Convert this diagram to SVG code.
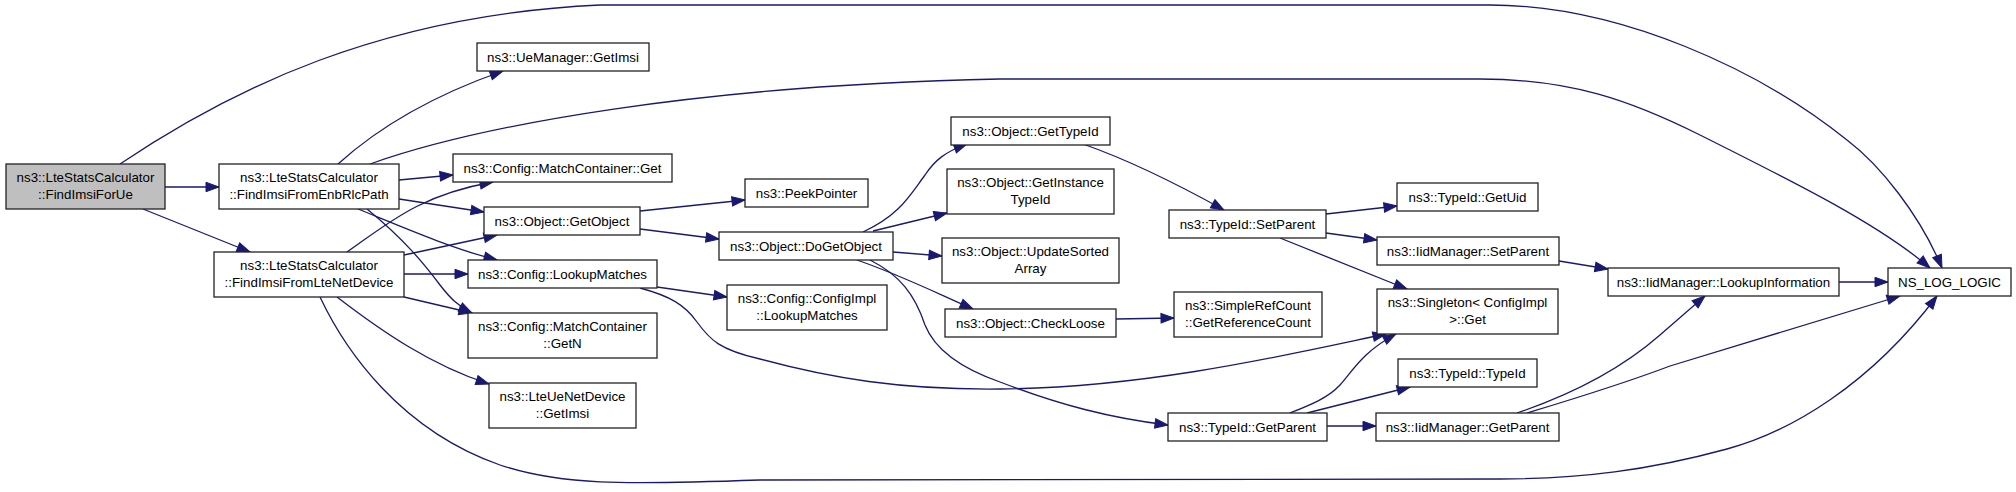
<svg xmlns="http://www.w3.org/2000/svg" width="2016" height="492" viewBox="0 0 2016 492">
<defs>
<marker id="ah" markerWidth="14" markerHeight="10" refX="13" refY="5" orient="auto" markerUnits="userSpaceOnUse" overflow="visible">
<path d="M0,0.3 L13,5 L0,9.7 z" fill="#191970" stroke="#191970" stroke-width="1"/>
</marker>
</defs>
<style>
.n rect{fill:#fff;stroke:#222;stroke-width:1.3}
.n rect.root{fill:#bfbfbf}
.n text{font-family:"Liberation Sans",Arial,sans-serif;font-size:13.33px;fill:#000;text-anchor:middle}
#edges path{fill:none;stroke:#191970;stroke-width:1.3;marker-end:url(#ah)}
</style>
<rect width="2016" height="492" fill="#fff"/>
<g id="edges">
<path d="M120,164 C230,90 380,15 600,5 L1490,5 C1620,5 1760,70 1847,140 C1880,165 1920,215 1942,268"/>
<path d="M165,187 L219,187"/>
<path d="M143,209 L250,252"/>
<path d="M338,164 C370,135 420,100 503,71"/>
<path d="M370,164 C480,125 700,85 1000,79 L1480,79 C1570,79 1630,100 1700,135 C1800,185 1880,225 1930,268"/>
<path d="M399,180 L453,175"/>
<path d="M399,199 L484,212"/>
<path d="M358,209 C400,226 450,248 497,260"/>
<path d="M367,209 C405,240 425,265 440,285 C450,298 458,306 472,313"/>
<path d="M347,252 C390,222 420,195 493,182"/>
<path d="M404,255 L497,235"/>
<path d="M404,274 L468,274"/>
<path d="M404,297 L472,313"/>
<path d="M337,297 C380,330 430,365 489,384"/>
<path d="M320,297 C345,350 400,430 500,465 C560,485 620,485 760,480 L1500,479 C1580,479 1650,470 1727,449 C1790,432 1870,385 1937,296"/>
<path d="M640,211 L745,200"/>
<path d="M640,229 L719,239"/>
<path d="M657,287 L727,297"/>
<path d="M640,288 C670,296 685,305 697,322 C710,340 720,350 760,359 C830,378 900,390 1000,389 C1150,388 1300,352 1386,334"/>
<path d="M863,232 C900,215 910,195 925,175 C935,160 945,152 967,144"/>
<path d="M873,231 L947,213"/>
<path d="M893,252 L942,256"/>
<path d="M857,260 C900,275 930,290 973,309"/>
<path d="M870,260 C900,275 915,295 925,325 C935,350 960,368 1000,382 C1060,405 1110,418 1168,425"/>
<path d="M1083,144 C1120,157 1170,180 1224,210"/>
<path d="M1116,319 L1174,318"/>
<path d="M1326,214 L1397,206"/>
<path d="M1326,233 L1377,240"/>
<path d="M1280,238 L1407,289"/>
<path d="M1290,413 C1310,405 1328,398 1340,385 C1352,372 1362,352 1396,334"/>
<path d="M1307,413 L1410,387"/>
<path d="M1327,426 L1376,426"/>
<path d="M1559,261 L1608,269"/>
<path d="M1517,413 C1570,395 1620,370 1660,335 C1680,318 1692,307 1705,296"/>
<path d="M1527,413 C1570,400 1620,385 1670,366 L1900,296"/>
<path d="M1839,282 L1888,282"/>
</g>
<g id="n1" class="n"><rect class="root" x="6" y="164" width="159" height="45"/><text x="85.5" y="181.5">ns3::LteStatsCalculator</text><text x="85.5" y="198.5">::FindImsiForUe</text></g>
<g id="n2" class="n"><rect x="219" y="164" width="180" height="45"/><text x="309" y="181.5">ns3::LteStatsCalculator</text><text x="309" y="198.5">::FindImsiFromEnbRlcPath</text></g>
<g id="n3" class="n"><rect x="214" y="252" width="190" height="45"/><text x="309" y="269.5">ns3::LteStatsCalculator</text><text x="309" y="286.5">::FindImsiFromLteNetDevice</text></g>
<g id="n4" class="n"><rect x="477" y="43" width="172" height="28"/><text x="563" y="61.5">ns3::UeManager::GetImsi</text></g>
<g id="n5" class="n"><rect x="453" y="154" width="219" height="28"/><text x="562.5" y="172.5">ns3::Config::MatchContainer::Get</text></g>
<g id="n6" class="n"><rect x="484" y="207" width="156" height="28"/><text x="562" y="225.5">ns3::Object::GetObject</text></g>
<g id="n7" class="n"><rect x="468" y="260" width="189" height="28"/><text x="562.5" y="278.5">ns3::Config::LookupMatches</text></g>
<g id="n8" class="n"><rect x="468" y="313" width="189" height="45"/><text x="562.5" y="330.5">ns3::Config::MatchContainer</text><text x="562.5" y="347.5">::GetN</text></g>
<g id="n9" class="n"><rect x="489" y="383" width="147" height="45"/><text x="562.5" y="400.5">ns3::LteUeNetDevice</text><text x="562.5" y="417.5">::GetImsi</text></g>
<g id="n10" class="n"><rect x="1888" y="268" width="123" height="28"/><text x="1949.5" y="286.5">NS_LOG_LOGIC</text></g>
<g id="n11" class="n"><rect x="745" y="179" width="123" height="28"/><text x="806.5" y="197.5">ns3::PeekPointer</text></g>
<g id="n12" class="n"><rect x="719" y="232" width="174" height="28"/><text x="806" y="250.5">ns3::Object::DoGetObject</text></g>
<g id="n13" class="n"><rect x="727" y="285" width="160" height="45"/><text x="807" y="302.5">ns3::Config::ConfigImpl</text><text x="807" y="319.5">::LookupMatches</text></g>
<g id="n14" class="n"><rect x="1377" y="289" width="181" height="45"/><text x="1467.5" y="306.5">ns3::Singleton&lt; ConfigImpl</text><text x="1467.5" y="323.5">&gt;::Get</text></g>
<g id="n15" class="n"><rect x="951" y="117" width="159" height="28"/><text x="1030.5" y="135.5">ns3::Object::GetTypeId</text></g>
<g id="n16" class="n"><rect x="947" y="169" width="167" height="45"/><text x="1030.5" y="186.5">ns3::Object::GetInstance</text><text x="1030.5" y="203.5">TypeId</text></g>
<g id="n17" class="n"><rect x="942" y="238" width="177" height="45"/><text x="1030.5" y="255.5">ns3::Object::UpdateSorted</text><text x="1030.5" y="272.5">Array</text></g>
<g id="n18" class="n"><rect x="945" y="309" width="171" height="28"/><text x="1030.5" y="327.5">ns3::Object::CheckLoose</text></g>
<g id="n19" class="n"><rect x="1168" y="413" width="159" height="28"/><text x="1247.5" y="431.5">ns3::TypeId::GetParent</text></g>
<g id="n20" class="n"><rect x="1169" y="210" width="157" height="28"/><text x="1247.5" y="228.5">ns3::TypeId::SetParent</text></g>
<g id="n21" class="n"><rect x="1174" y="292" width="148" height="45"/><text x="1248" y="309.5">ns3::SimpleRefCount</text><text x="1248" y="326.5">::GetReferenceCount</text></g>
<g id="n22" class="n"><rect x="1397" y="183" width="141" height="28"/><text x="1467.5" y="201.5">ns3::TypeId::GetUid</text></g>
<g id="n23" class="n"><rect x="1377" y="237" width="182" height="28"/><text x="1468" y="255.5">ns3::IidManager::SetParent</text></g>
<g id="n24" class="n"><rect x="1398" y="359" width="139" height="28"/><text x="1467.5" y="377.5">ns3::TypeId::TypeId</text></g>
<g id="n25" class="n"><rect x="1376" y="413" width="183" height="28"/><text x="1467.5" y="431.5">ns3::IidManager::GetParent</text></g>
<g id="n26" class="n"><rect x="1608" y="268" width="231" height="28"/><text x="1723.5" y="286.5">ns3::IidManager::LookupInformation</text></g>
</svg>
